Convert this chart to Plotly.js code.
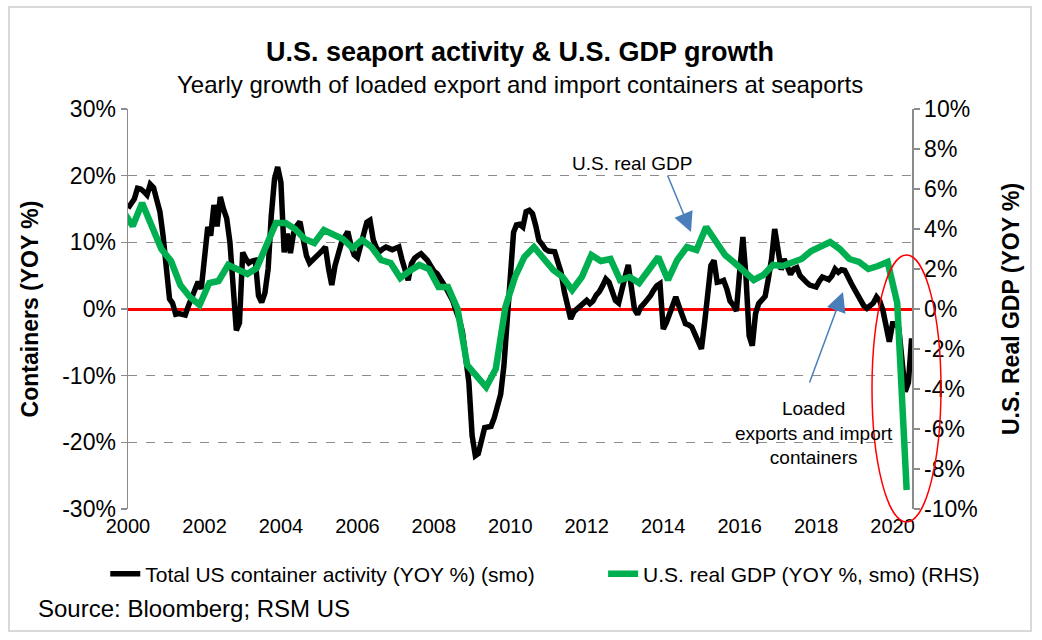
<!DOCTYPE html>
<html><head><meta charset="utf-8">
<script src="https://cdn.plot.ly/plotly-3.0.1.min.js"></script>
<style>
html,body{margin:0;padding:0;background:#fff;}
#wrap{position:relative;width:1042px;height:640px;overflow:hidden;}
#chart{width:1042px;height:640px;}
#frame{position:absolute;left:8px;top:6px;width:1024px;height:626px;border:2px solid #d9d9d9;pointer-events:none;box-sizing:border-box;}
</style></head><body>
<div id="wrap"><div id="chart"></div><div id="frame"></div></div>
<script>
// Monthly total US container activity, YoY %, smoothed (Jan 2000 - Jul 2020)
const containerStart = [2000, 1];
const containerYoY = [
  15.1, 15.7, 16.5, 18.1, 18.0, 17.6, 17.1, 18.7, 18.2, 16.4, 14.6, 11.0,
  7.0, 1.5, 0.9, -0.8, -0.7, -0.7, -0.9, 0.5, 1.9, 3.0, 4.1, 3.0,
  7.0, 12.3, 11.0, 15.6, 12.4, 16.8, 15.0, 13.6, 10.0, 3.0, -3.2, -2.1,
  8.5, 7.5, 6.9, 7.2, 7.3, 2.0, 1.0, 2.4, 6.0, 14.0, 19.5, 21.3,
  19.0, 8.5, 11.3, 8.4, 11.4, 12.5, 13.1, 10.5, 8.0, 6.9, 7.3, 7.8,
  8.3, 8.8, 9.3, 6.0, 3.6, 6.5, 8.5, 9.9, 10.8, 11.6, 9.5, 8.1,
  7.7, 9.5, 11.6, 13.0, 13.3, 10.4, 9.2, 8.6, 9.0, 9.3, 9.1, 8.9,
  9.1, 9.3, 7.5, 5.5, 4.3, 6.8, 7.6, 8.0, 8.3, 7.8, 7.3, 6.5,
  5.7, 5.3, 4.7, 3.8, 3.0, 2.1, 1.2, -0.3, -1.6, -3.5, -7.0, -11.0,
  -19.0, -22.0, -21.7, -19.5, -17.8, -17.7, -17.6, -16.3, -14.8, -12.8, -8.5, -2.0,
  3.5, 11.5, 12.6, 12.7, 12.3, 14.6, 14.8, 14.3, 12.5, 10.3, 9.7, 9.0,
  8.7, 8.6, 8.6, 7.0, 5.5, 2.6, 0.5, -1.5, -0.4, 0.0, 0.5, 1.0,
  1.3, 0.8, 1.2, 2.1, 2.6, 3.5, 4.5, 4.0, 2.6, 1.3, 0.9, 2.5,
  4.8, 6.6, 2.8, 0.0, -0.8, 0.3, 0.8, 1.3, 2.0, 2.8, 3.5, 3.8,
  -3.0, -2.0, -0.8, 1.0, 1.8, 0.4, -1.0, -2.2, -2.4, -2.7, -3.8, -5.0,
  -6.0, -2.0, 2.5, 6.5, 7.3, 4.0, 4.1, 4.3, 3.0, 1.2, 0.6, -0.3,
  5.5, 10.8, 5.0, -4.0, -5.5, -0.7, 0.8, 1.4, 1.9, 4.5, 7.5, 12.0,
  8.5, 5.9, 7.5, 6.5, 5.2, 6.0, 6.2, 5.0, 4.4, 4.0, 3.6, 3.4,
  3.3, 4.2, 4.8, 4.6, 4.4, 5.0, 6.0, 5.5, 5.9, 5.8, 5.0, 3.9,
  3.0, 2.0, 1.3, 0.5, 0.1, 0.4, 0.9, 1.8, 1.2, -0.2, -3.0, -4.9,
  -2.2, -2.2, -2.9, -8.0, -12.4, -11.0, -4.4
];

// Quarterly US real GDP, YoY %, smoothed (1999Q4 - 2020Q2), plotted mid-quarter
const gdpStart = [1999, 11];
const gdpYoY = [
  4.9,
  4.15, 5.3, 4.2, 3.0,
  2.4, 1.2, 0.6, 0.2,
  1.3, 1.4, 2.2, 2.0,
  1.75, 2.05, 3.2, 4.3,
  4.3, 4.0, 3.5, 3.3,
  3.95, 3.7, 3.5, 3.05,
  3.45, 3.1, 2.45, 2.3,
  1.55, 1.9, 2.2, 2.0,
  1.1, 1.1, 0.0, -2.8,
  -3.4, -3.9, -3.0, 0.1,
  1.6, 2.6, 3.1, 2.5,
  1.95, 1.6, 0.95, 1.6,
  2.7, 2.4, 2.5, 1.45,
  1.6, 1.3, 1.95, 2.6,
  1.45, 2.45, 3.1, 2.95,
  4.1, 3.4, 2.7, 2.3,
  1.9, 1.45, 1.7, 2.2,
  2.15, 2.3, 2.5, 2.9,
  3.1, 3.35, 3.0, 2.5,
  2.35, 2.0, 2.15, 2.35,
  0.3, -9.05
];

const xTickYears = ['2000','2002','2004','2006','2008','2010','2012','2014','2016','2018','2020'];
const leftTickVals = [30, 20, 10, 0, -10, -20, -30];
const leftTickText = ['30%', '20%', '10%', '0%', '-10%', '-20%', '-30%'];
const rightTickVals = [10, 8, 6, 4, 2, 0, -2, -4, -6, -8, -10];
const rightTickText = ['10%', '8%', '6%', '4%', '2%', '0%', '-2%', '-4%', '-6%', '-8%', '-10%'];

function dateSeq(start, n, stepMonths, day) {
  const out = [];
  for (let i = 0; i < n; i++) {
    const idx = (start[0] * 12 + start[1] - 1) + i * stepMonths;
    const y = Math.floor(idx / 12), m = idx % 12 + 1;
    out.push(y + '-' + String(m).padStart(2, '0') + '-' + String(day).padStart(2, '0'));
  }
  return out;
}

const FONT = 'Liberation Sans, Arial, sans-serif';

const traces = [
  {
    x: dateSeq(containerStart, containerYoY.length, 1, 1),
    y: containerYoY,
    type: 'scatter', mode: 'lines',
    name: 'Total US container activity (YOY %) (smo)',
    line: {color: '#000000', width: 5.5},
    yaxis: 'y', legend: 'legend'
  },
  {
    x: dateSeq(gdpStart, gdpYoY.length, 3, 15),
    y: gdpYoY,
    type: 'scatter', mode: 'lines',
    name: 'U.S. real GDP (YOY %, smo) (RHS)',
    line: {color: '#00b050', width: 6.5},
    yaxis: 'y2', legend: 'legend2'
  }
];

const legendCommon = {
  orientation: 'h', xanchor: 'left', y: -0.1625, yanchor: 'middle',
  font: {size: 21, family: FONT}, bgcolor: 'rgba(0,0,0,0)', borderwidth: 0
};

const layout = {
  width: 1042, height: 640,
  paper_bgcolor: '#ffffff', plot_bgcolor: '#ffffff',
  font: {family: FONT, color: '#000000'},
  margin: {l: 128, r: 130, t: 109, b: 131},
  title: {
    text: '<b>U.S. seaport activity & U.S. GDP growth</b>',
    font: {size: 27, family: FONT, color: '#000'},
    x: 0.5, xanchor: 'center', xref: 'paper',
    y: 1 - 52 / 640, yanchor: 'middle', yref: 'container'
  },
  showlegend: true,
  legend: Object.assign({}, legendCommon, {x: -0.029}),
  legend2: Object.assign({}, legendCommon, {x: 0.606}),
  xaxis: {
    type: 'date', range: ['2000-01-01', '2020-07-05'],
    tickvals: xTickYears.map(function (y) { return y + '-01-01'; }),
    ticktext: xTickYears,
    tickfont: {size: 20, family: FONT},
    showgrid: false, zeroline: false, showline: false, ticks: '',
    ticklabelstandoff: 3
  },
  yaxis: {
    range: [-30, 30], tickvals: leftTickVals, ticktext: leftTickText,
    tickfont: {size: 23, family: FONT},
    showgrid: true, gridcolor: '#8c8c8c', griddash: 'dash', gridwidth: 1.5,
    zeroline: true, zerolinecolor: '#ff0000', zerolinewidth: 3,
    showline: true, linecolor: '#8c8c8c', linewidth: 1.5,
    ticks: 'outside', ticklen: 6, tickcolor: '#8c8c8c', tickwidth: 1.5,
    title: {text: '<b>Containers (YOY %)</b>', font: {size: 23, family: FONT}, standoff: 17}
  },
  yaxis2: {
    overlaying: 'y', side: 'right', range: [-10, 10],
    tickvals: rightTickVals, ticktext: rightTickText,
    tickfont: {size: 23, family: FONT},
    showgrid: false, zeroline: false,
    showline: true, linecolor: '#8c8c8c', linewidth: 1.5,
    ticks: 'outside', ticklen: 6, tickcolor: '#8c8c8c', tickwidth: 1.5,
    title: {text: '<b>U.S. Real GDP (YOY %)</b>', font: {size: 23, family: FONT}, standoff: 26}
  },
  annotations: [
    {text: 'Yearly growth of loaded export and import containers at seaports',
     xref: 'paper', yref: 'paper', x: 0.5, y: (509 - 85) / 400, xanchor: 'center', yanchor: 'middle',
     showarrow: false, font: {size: 24, family: FONT}},
    {text: 'U.S. real GDP', xref: 'paper', yref: 'paper',
     x: (632 - 128) / 784, y: (509 - 163) / 400, xanchor: 'center', yanchor: 'middle',
     showarrow: false, font: {size: 19, family: FONT}},
    {text: '', xref: 'paper', yref: 'paper',
     x: (691 - 128) / 784, y: (509 - 232) / 400, ax: -24, ay: -58,
     showarrow: true, arrowhead: 2, arrowsize: 2.6, arrowwidth: 1.5, arrowcolor: '#4a7ebb'},
    {text: 'Loaded<br>exports and import<br>containers', xref: 'paper', yref: 'paper',
     x: (814 - 128) / 784, y: (509 - 433) / 400, xanchor: 'center', yanchor: 'middle', align: 'center',
     showarrow: false, font: {size: 19, family: FONT}},
    {text: '', xref: 'paper', yref: 'paper',
     x: (843 - 128) / 784, y: (509 - 292) / 400, ax: -34, ay: 92,
     showarrow: true, arrowhead: 2, arrowsize: 2.6, arrowwidth: 1.5, arrowcolor: '#4a7ebb'},
    {text: 'Source: Bloomberg; RSM US', xref: 'paper', yref: 'paper',
     x: (36 - 128) / 784, y: (509 - 608) / 400, xanchor: 'left', yanchor: 'middle',
     showarrow: false, font: {size: 24, family: FONT}}
  ],
  shapes: [
    {type: 'circle', xref: 'paper', yref: 'paper',
     x0: (872 - 128) / 784, x1: (941 - 128) / 784, y0: (509 - 522) / 400, y1: (509 - 255) / 400,
     line: {color: '#ff0000', width: 1.5}, fillcolor: 'rgba(0,0,0,0)', layer: 'above'}
  ]
};

Plotly.newPlot('chart', traces, layout, {displayModeBar: false, staticPlot: true});
</script>
</body></html>
